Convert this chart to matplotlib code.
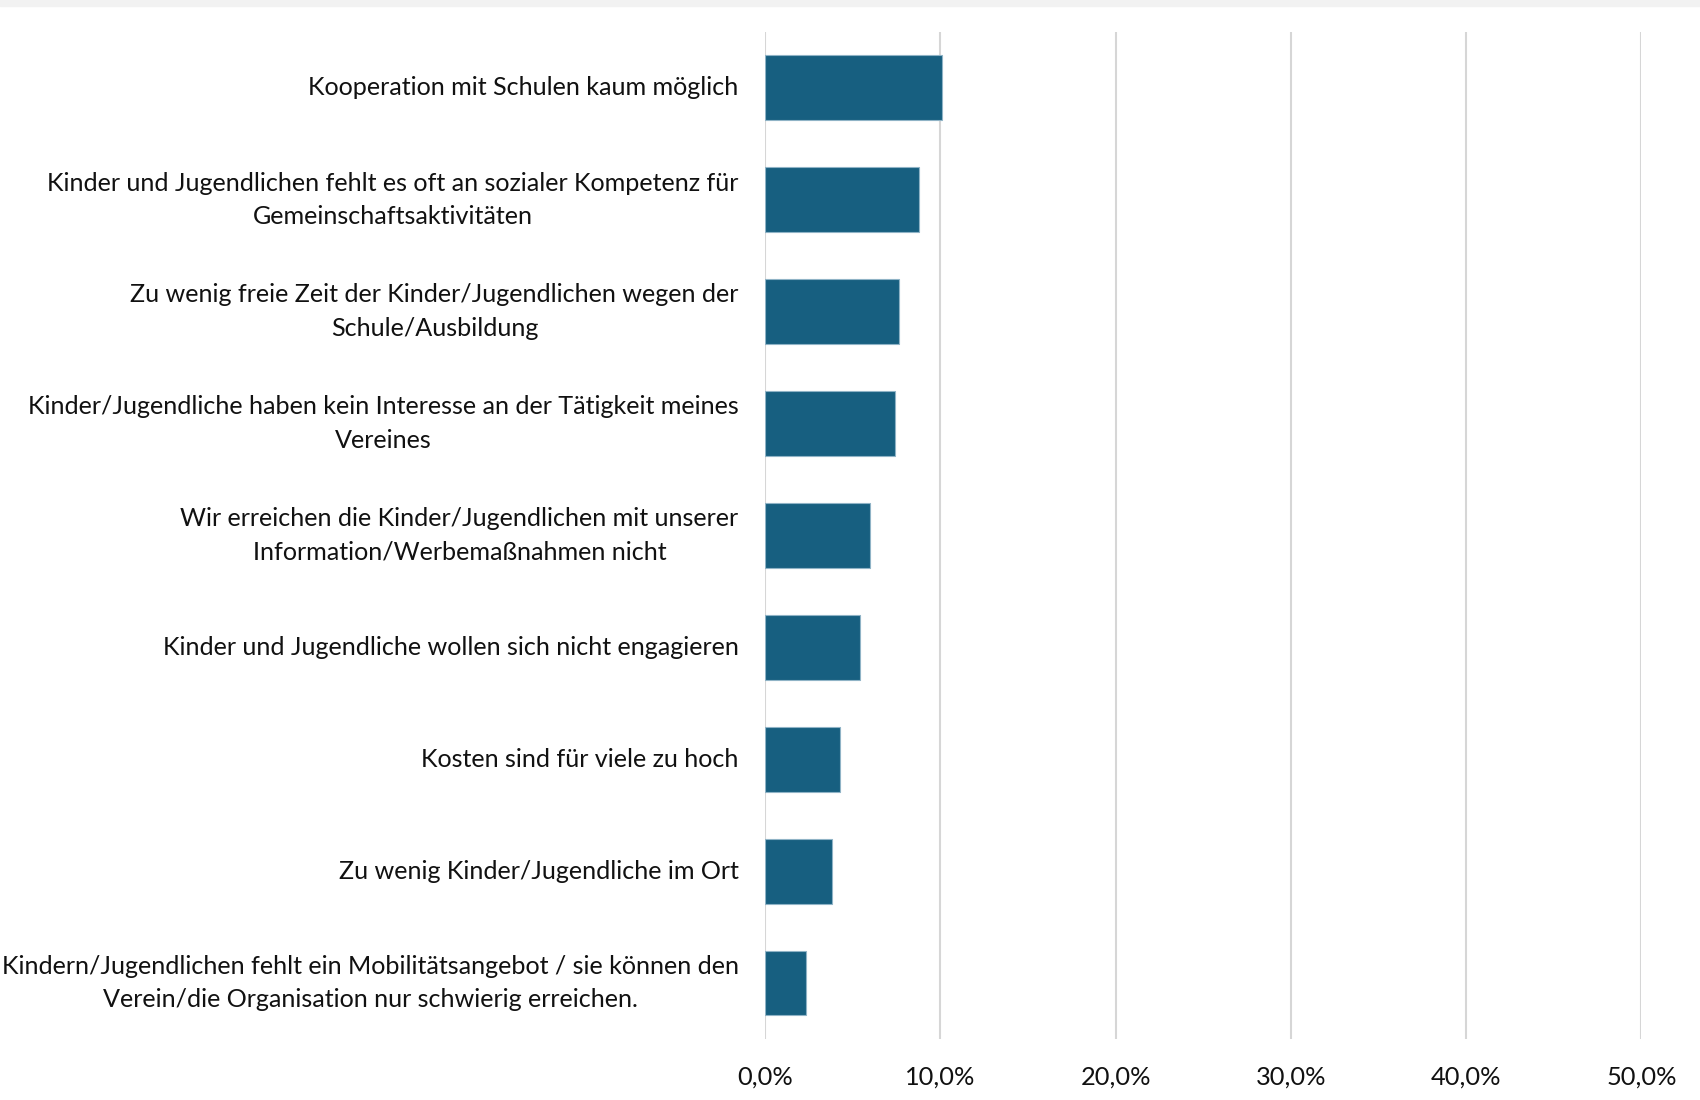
import matplotlib
matplotlib.use("Agg")
import matplotlib.pyplot as plt
from matplotlib.patches import Rectangle
from matplotlib.ticker import FuncFormatter

# answers, top to bottom
labels = [
    "Kooperation mit Schulen kaum möglich",
    "Kinder und Jugendlichen fehlt es oft an sozialer Kompetenz für\nGemeinschaftsaktivitäten",
    "Zu wenig freie Zeit der Kinder/Jugendlichen wegen der\nSchule/Ausbildung",
    "Kinder/Jugendliche haben kein Interesse an der Tätigkeit meines\nVereines",
    "Wir erreichen die Kinder/Jugendlichen mit unserer\nInformation/Werbemaßnahmen nicht",
    "Kinder und Jugendliche wollen sich nicht engagieren",
    "Kosten sind für viele zu hoch",
    "Zu wenig Kinder/Jugendliche im Ort",
    "Kindern/Jugendlichen fehlt ein Mobilitätsangebot / sie können den\nVerein/die Organisation nur schwierig erreichen.",
]
shares = [10.1, 8.8, 7.65, 7.4, 6.0, 5.4, 4.3, 3.8, 2.35]

plt.rcParams["font.family"] = ["Lato", "DejaVu Sans"]

fig = plt.figure(figsize=(17, 11), dpi=100)
ax = fig.add_axes([0.45, 0.0555, 0.5155, 0.9155])

ypos = list(range(len(labels)))
ax.barh(ypos, shares, height=0.58, color="#175f80", edgecolor="#8fb3c6", linewidth=0.8, zorder=3)

ax.set_xlim(0, 50)
ax.set_ylim(len(labels) - 0.5, -0.5)
ax.set_xticks([0, 10, 20, 30, 40, 50])
ax.xaxis.set_major_formatter(FuncFormatter(lambda v, p: f"{v:.1f}%".replace(".", ",")))
ax.set_yticks(ypos)
ax.set_yticklabels(labels, multialignment="center", linespacing=1.55, va="center")

ax.tick_params(axis="y", length=0, pad=19, labelsize=18.1, labelcolor="#111111")
ax.tick_params(axis="x", length=0, pad=19, labelsize=18.3, labelcolor="#111111")

ax.grid(axis="x", color="#d6d6d6", linewidth=1.5, zorder=0)
for s in ax.spines.values():
    s.set_visible(False)

# light grey strip along the top edge
fig.patches.append(Rectangle((0, 1 - 6 / 1100), 1, 6 / 1100, transform=fig.transFigure,
                             color="#f2f2f2", zorder=0))

fig.savefig("out.png", dpi=100, facecolor="white")
